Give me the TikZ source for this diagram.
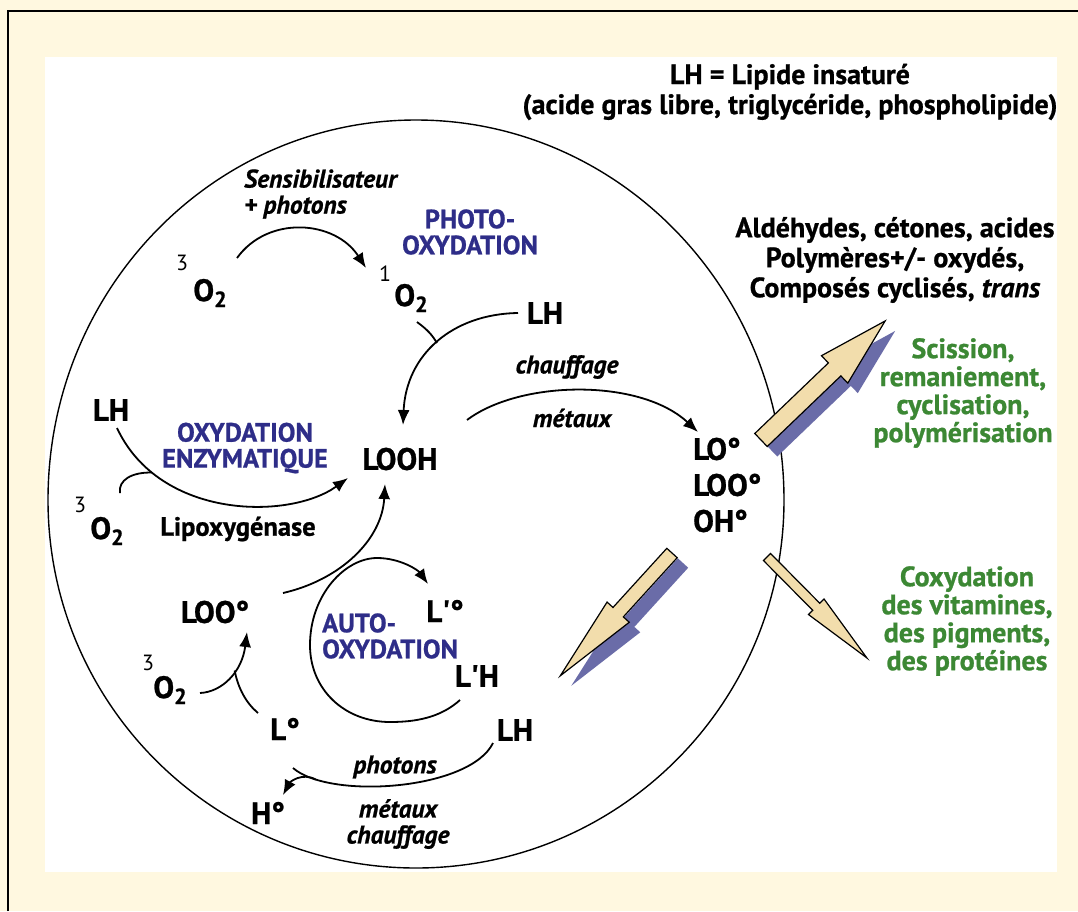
\documentclass[tikz,border=0pt]{standalone}
\usepackage{fontspec}
\setmainfont{PT Sans}[BoldFeatures={FakeBold=0.8}, BoldItalicFeatures={FakeBold=0.8}]
\usetikzlibrary{arrows.meta}

\definecolor{cream}{RGB}{255,248,224}
\definecolor{procblue}{RGB}{46,45,136}
\definecolor{effgreen}{RGB}{60,136,52}
\definecolor{arrowfill}{RGB}{242,221,172}
\definecolor{arrowshade}{RGB}{106,108,168}

\tikzset{
  spec/.style={font=\fontsize{31}{36}\selectfont\bfseries, inner sep=1pt},
  supnum/.style={font=\fontsize{22}{24}\selectfont, inner sep=0pt},
  cond/.style={font=\fontsize{25.5}{26}\selectfont\bfseries\itshape, inner sep=1pt},
  proc/.style={font=\fontsize{26.5}{26}\selectfont\bfseries, text=procblue, align=center, inner sep=1pt},
  prodtext/.style={font=\fontsize{28}{30}\selectfont\bfseries, align=center, inner sep=1pt},
  effect/.style={font=\fontsize{28}{28}\selectfont\bfseries, text=effgreen, align=center, inner sep=1pt},
  arr/.style={line width=1.8pt, -{Latex[length=15pt,width=12pt]}},
  link/.style={line width=1.8pt},
  fatbody/.style={fill=arrowfill, draw=black, line width=1.2pt},
  fatshade/.style={fill=arrowshade},
}

% O2 with a low, large index
\newcommand{\oxy}{O\raisebox{-6pt}{\fontsize{22}{22}\selectfont 2}}

% style, tail, angle, length, shaft half width, head half width, head length
\newcommand{\fatarrow}[7]{%
  \path[#1, shift={#2}, rotate=#3] (0,-#5) -- (#4-#7,-#5) -- (#4-#7,-#6) -- (#4,0)
    -- (#4-#7,#6) -- (#4-#7,#5) -- (0,#5) -- cycle;}

\begin{document}
\begin{tikzpicture}[x=1pt,y=-1pt]
  \useasboundingbox (0,0) rectangle (1078,911);
  % frame
  \fill[cream] (0,0) rectangle (1078,911);
  \draw[line width=2pt] (8,911) -- (8,11) -- (1078,11);
  \fill[white] (45,57) rectangle (1057,872);
  % cell
  \draw[line width=1.4pt] (784,500)
    arc[start angle=0, end angle=-180, x radius=368, y radius=380]
    arc[start angle=180, end angle=0, x radius=368, y radius=368];

  % texts outside the cell
  \node[prodtext] (hdr) at (790,92) {LH = Lipide insaturé\\(acide gras libre, triglycéride, phospholipide)};
  \node[prodtext] (prod) at (895,260) {Aldéhydes, cétones, acides\\Polymères+/- oxydés,\\Composés cyclisés, \textit{trans}};
  \node[effect] (scis) at (963,393) {Scission,\\remaniement,\\cyclisation,\\polymérisation};
  \node[effect] (coxy) at (967,621) {Coxydation\\des vitamines,\\des pigments,\\des protéines};

  % processes
  \node[proc] (photo) at (470,232) {PHOTO-\\OXYDATION};
  \node[proc] (enzy) at (245,448) {OXYDATION\\ENZYMATIQUE};
  \node[proc, align=left, anchor=west] (auto) at (321,636) {AUTO-\\OXYDATION};

  % species
  \node[spec] (o3a) at (210,293) {\oxy};
  \node[supnum] (o3a-s) at (182,263) {3};
  \node[spec] (o1a) at (411,298) {\oxy};
  \node[supnum] (o1a-s) at (385,274) {1};
  \node[spec] (lha) at (545,313) {LH};
  \node[spec] (looh) at (400,459) {LOOH};
  \node[spec] (lhb) at (111,410) {LH};
  \node[spec] (o3b) at (107,531) {\oxy};
  \node[supnum] (o3b-s) at (80,505) {3};
  \node[spec, align=left, anchor=west] (lo) at (692,485) {LO°\\LOO°\\OH°};
  \node[spec] (loo) at (215,612) {LOO°};
  \node[spec] (lpo) at (445,611) {L\textquotesingle°};
  \node[spec] (lph) at (477,676) {L\textquotesingle H};
  \node[spec] (o3c) at (170,690) {\oxy};
  \node[supnum] (o3c-s) at (148,663) {3};
  \node[spec] (ldot) at (285,729) {L°};
  \node[spec] (lhc) at (515,730) {LH};
  \node[spec] (hdot) at (268,813) {H°};

  % conditions
  \node[cond, align=left, anchor=west] (sens) at (243,194) {Sensibilisateur\\+ photons};
  \node[cond] (chauf) at (567,367) {chauffage};
  \node[cond] (metx) at (572,418) {métaux};
  \node[font=\fontsize{26.5}{28}\selectfont\bfseries] (lipox) at (238,529) {Lipoxygénase};
  \node[cond] (phot) at (395,767) {photons};
  \node[cond, align=center] (metch) at (398,824) {métaux\\chauffage};

  % photo-oxydation
  \draw[arr] ([shift={(27,-35)}]o3a.center) .. controls (268,215) and (335,220) .. ([shift={(-45,-30)}]o1a.center);
  \draw[arr] ([shift={(-27,0)}]lha.center) .. controls (452,314) and (406,355) .. coordinate[pos=0.5] (j1) ([shift={(3,-34)}]looh.center);
  \draw[link] ([shift={(6,24)}]o1a.center) .. controls (428,330) and (433,336) .. (j1);

  % oxydation enzymatique
  \draw[arr] ([shift={(6,18)}]lhb.center) .. controls (160,520) and (290,520) .. coordinate[pos=0.2] (j2) ([shift={(-52,19)}]looh.center);
  \draw[link] ([shift={(13,-38)}]o3b.center) .. controls (118,480) and (132,472) .. (j2);

  % LOOH -> radicaux
  \draw[arr] ([shift={(67,-39)}]looh.center) .. controls (520,380) and (640,378) .. ([shift={(6,-53)}]lo.west);

  % auto-oxydation
  \draw[arr] ([shift={(68,-19)}]loo.center) .. controls (340,580) and (382,540) .. ([shift={(-15,25)}]looh.center);
  \draw[arr] ([shift={(-17,24)}]lph.center) .. controls (440,718) and (415,722) .. (390,722)
    .. controls (345,722) and (310,690) .. (310,645)
    .. controls (310,595) and (345,558) .. (377,558)
    .. controls (400,558) and (418,570) .. ([shift={(-17,-27)}]lpo.center);
  \draw[arr] ([shift={(30,3)}]o3c.center) .. controls (222,692) and (242,672) .. coordinate[pos=0.6] (j3) ([shift={(32,20)}]loo.center);
  \draw[link] ([shift={(-27,-16)}]ldot.center) .. controls (246,703) and (238,688) .. (j3);
  \draw[link] ([shift={(-22,13)}]lhc.center) .. controls (470,790) and (330,800) .. coordinate[pos=0.85] (j4) ([shift={(8,39)}]ldot.center);
  \draw[arr] (j4) .. controls (302,772) and (290,782) .. ([shift={(15,-18)}]hdot.center);

  % big arrows
  \fatarrow{fatshade}{(771,450)}{43.8}{172}{9}{19}{70}
  \fatarrow{fatbody}{(761,440)}{43.8}{172}{9}{19}{70}
  \fatarrow{fatshade}{(683,563)}{227.7}{166}{7}{15}{86}
  \fatarrow{fatbody}{(672,553)}{227.7}{166}{7}{15}{86}
  \fatarrow{fatbody}{(767,557)}{-45.3}{142}{5}{11}{72}
\end{tikzpicture}
\end{document}
